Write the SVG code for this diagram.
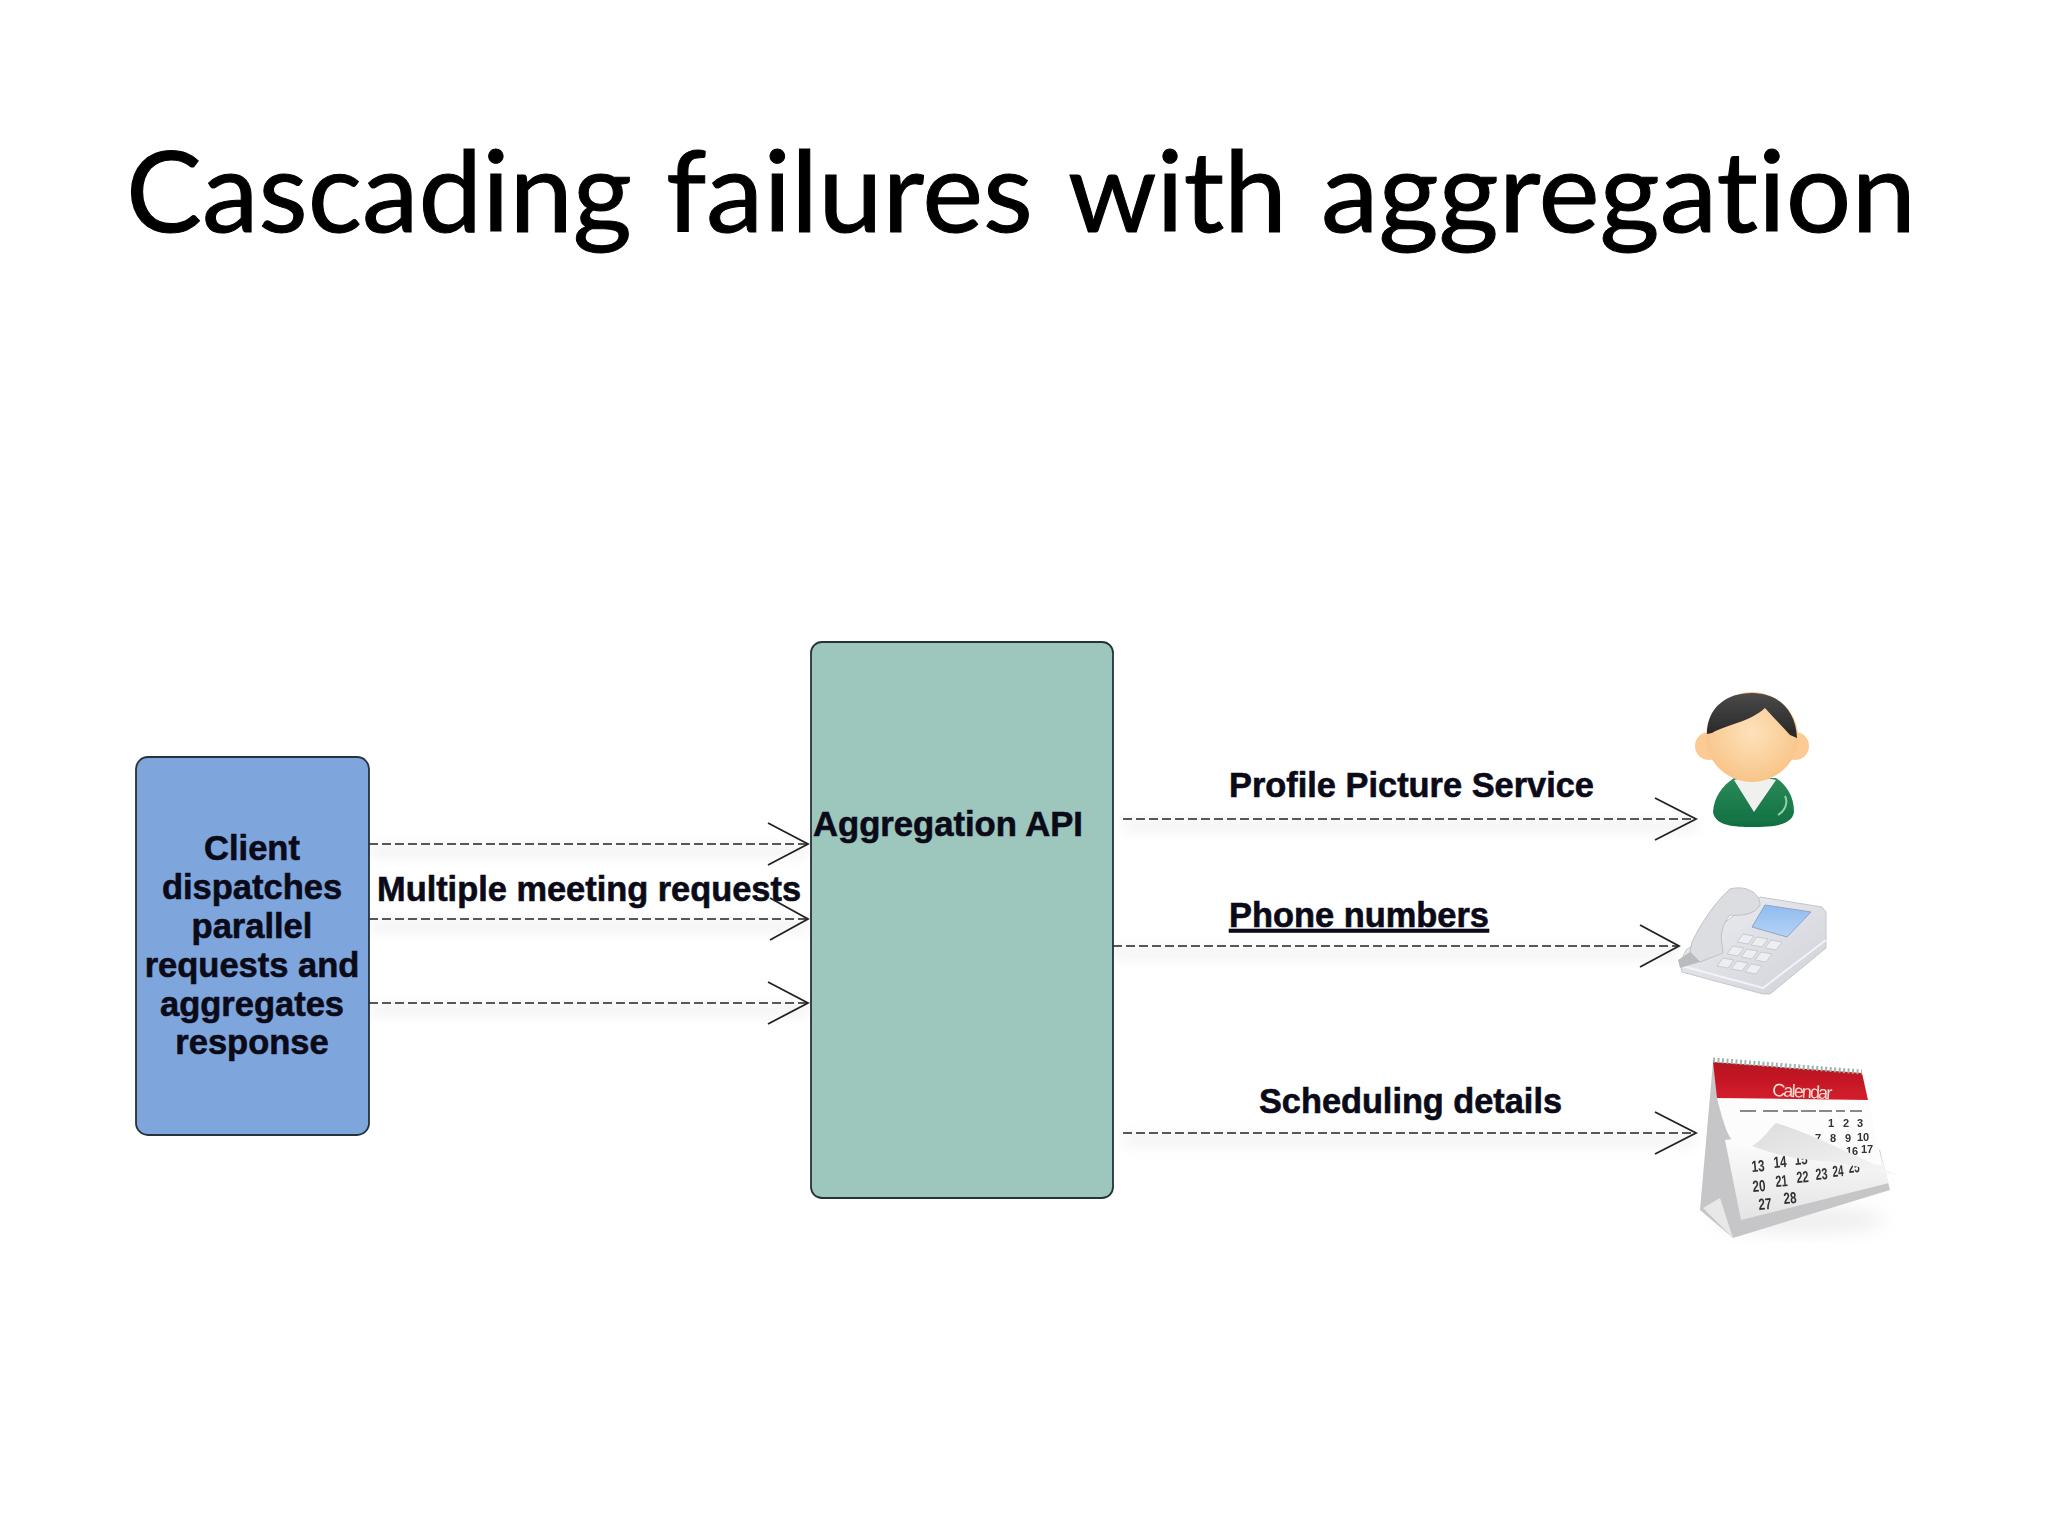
<svg xmlns="http://www.w3.org/2000/svg" width="2048" height="1536" viewBox="0 0 2048 1536">
<style>
.t{font-family:"Liberation Sans",Arial,sans-serif;font-weight:700;font-size:34.500px;fill:#0a0a18;stroke:#0a0a18;stroke-width:.6}
.m{text-anchor:middle}
.c{fill:none;stroke:#222;stroke-width:1.600;stroke-dasharray:9 4}
.h{fill:none;stroke:#222;stroke-width:1.800}
.s{fill:none;stroke:#aaa;stroke-width:9;opacity:.2}
.n{font-family:"Liberation Sans",Arial,sans-serif;font-weight:700;font-size:11px;fill:#333}
.l{font-family:"Liberation Sans",Arial,sans-serif;font-weight:700;font-size:16px;fill:#333}
.box{stroke:#24323a;stroke-width:1.800}
</style>
<defs>
<radialGradient id="skin" cx="50%" cy="45%" r="60%"><stop offset="0" stop-color="#fde2bb"/><stop offset="1" stop-color="#f8c284"/></radialGradient>
<linearGradient id="green" x1="0" y1="0" x2="0" y2="1"><stop offset="0" stop-color="#2c8a58"/><stop offset="1" stop-color="#0f6f42"/></linearGradient>
<linearGradient id="hair" x1="0" y1="0" x2="0" y2="1"><stop offset="0" stop-color="#4a4a4a"/><stop offset="1" stop-color="#262626"/></linearGradient>
<linearGradient id="screen" x1="0" y1="0" x2="0" y2="1"><stop offset="0" stop-color="#8fbcf0"/><stop offset="1" stop-color="#b5d3f5"/></linearGradient>
<linearGradient id="body" x1="0" y1="0" x2="1" y2="1"><stop offset="0" stop-color="#eeeff3"/><stop offset="1" stop-color="#cfd1d9"/></linearGradient>
<linearGradient id="page" x1="0" y1="0" x2="0" y2="1"><stop offset="0" stop-color="#ffffff"/><stop offset="1" stop-color="#e4e4e4"/></linearGradient>
<linearGradient id="flap" x1="0" y1="0" x2="1" y2="1"><stop offset="0" stop-color="#dcdcdc"/><stop offset="1" stop-color="#f6f6f6"/></linearGradient>
<linearGradient id="red" x1="0" y1="0" x2="0" y2="1"><stop offset="0" stop-color="#b5121f"/><stop offset="1" stop-color="#d41e2c"/></linearGradient>
<filter id="soft" x="-10%" y="-300%" width="120%" height="700%"><feGaussianBlur stdDeviation="7"/></filter>
<filter id="blur" x="-5%" y="-5%" width="110%" height="110%"><feGaussianBlur stdDeviation=".6"/></filter>
<filter id="wide" x="-30%" y="-30%" width="160%" height="160%"><feGaussianBlur stdDeviation="8"/></filter>
</defs>
<rect width="2048" height="1536" fill="#ffffff"/>
<text id="title" x="128" y="232" font-family="Lato,'Open Sans',sans-serif" font-size="112" fill="#000" stroke="#000" stroke-width="1" style="font-variant-ligatures:none"><tspan x="126" textLength="506" lengthAdjust="spacingAndGlyphs">Cascading</tspan> <tspan x="666" textLength="367" lengthAdjust="spacingAndGlyphs">failures</tspan> <tspan x="1068" textLength="219" lengthAdjust="spacingAndGlyphs">with</tspan> <tspan x="1321" textLength="595" lengthAdjust="spacingAndGlyphs">aggregation</tspan></text>

<g id="connectors">
<path class="s" filter="url(#soft)" d="M369 851H808M369 926H808M369 1010H808M1123 826H1696M1113 953H1678M1123 1140H1696"/>
<path class="c" d="M369 844H808M369 919H808M369 1003H808M1123 819H1696M1113 946H1678M1123 1133H1696"/>
<path class="h" d="M768 823L808 844L768 865M770 898L808 919L770 940M768 982L808 1003L768 1024M1655 798L1696 819L1655 840M1640 925L1679 946L1640 967M1655 1112L1696 1133L1655 1154"/>
</g>

<g id="client">
<rect class="box" x="136" y="757" width="233" height="378" rx="12" fill="#7ea6dc"/>
<text class="t m" x="252" y="860">Client</text>
<text class="t m" x="252" y="899">dispatches</text>
<text class="t m" x="252" y="938">parallel</text>
<text class="t m" x="252" y="977">requests and</text>
<text class="t m" x="252" y="1016">aggregates</text>
<text class="t m" x="252" y="1054">response</text>
</g>
<g id="aggregation-api">
<rect class="box" x="811" y="642" width="302" height="556" rx="11" fill="#9dc6bd"/>
<text class="t" x="813" y="836" textLength="270" lengthAdjust="spacingAndGlyphs">Aggregation API</text>
</g>
<text id="label-requests" class="t" x="377" y="901" textLength="424" lengthAdjust="spacingAndGlyphs">Multiple meeting requests</text>
<text id="label-profile" class="t" x="1229" y="797" textLength="365" lengthAdjust="spacingAndGlyphs">Profile Picture Service</text>
<text id="label-phone" class="t" x="1229" y="927" textLength="260" lengthAdjust="spacingAndGlyphs" text-decoration="underline">Phone numbers</text>
<text id="label-schedule" class="t" x="1259" y="1113" textLength="303" lengthAdjust="spacingAndGlyphs">Scheduling details</text>

<g id="person" filter="url(#blur)">
<path d="M1713 812C1714 797 1722 786 1734 778L1776 778C1787 785 1794 797 1794 812C1792 826 1770 827 1752 827C1735 827 1715 826 1713 812Z" fill="url(#green)"/>
<path d="M1734 780L1754 812L1776 780L1754 775Z" fill="#f0f0ee"/>
<path d="M1778 815C1786 810 1788 802 1785 796" fill="none" stroke="#8fd0a8" stroke-width="2"/>
<circle cx="1709" cy="746" r="14" fill="#fbcb93"/>
<circle cx="1795" cy="746" r="14" fill="#fbcb93"/>
<ellipse cx="1752" cy="737" rx="46" ry="45" fill="url(#skin)"/>
<path d="M1707 734C1707 707 1727 693 1752 693C1778 693 1796 710 1797 738L1790 735C1782 726 1773 717 1765 708C1750 722 1725 725 1712 733Z" fill="url(#hair)"/>
</g>

<g id="phone" filter="url(#blur)">
<path d="M1680 963L1686 950L1760 897L1822 907L1826 912L1826 948L1770 994L1763 994L1682 972Z" fill="url(#body)" stroke="#c4c6cc"/>
<path d="M1682 966L1763 988L1826 940" fill="none" stroke="#f2f3f6" stroke-width="2"/>
<path d="M1765 905L1811 912L1787 937L1752 927Z" fill="url(#screen)" stroke="#8fa4c4"/>
<g fill="#eceef2" stroke="#c8cad0">
<path d="M1743 934l11 2l-6 8l-11 -2zM1757 937l11 2l-6 8l-11 -2zM1771 940l11 2l-6 8l-11 -2zM1733 946l11 2l-6 8l-11 -2zM1747 949l11 2l-6 8l-11 -2zM1761 952l11 2l-6 8l-11 -2zM1723 958l11 2l-6 8l-11 -2zM1737 961l11 2l-6 8l-11 -2zM1751 964l11 2l-6 8l-11 -2z"/>
</g>
<path d="M1692 942C1700 925 1715 902 1730 889C1745 885 1760 892 1760 905C1755 915 1740 916 1730 915C1722 925 1720 935 1722 945L1723 953L1700 962L1690 952Z" fill="#dcdde1" stroke="#bfc0c6"/>
<path d="M1700 962L1680 968L1678 960L1690 952Z" fill="#b9bbbf"/>
</g>

<g id="calendar" filter="url(#blur)">
<ellipse cx="1800" cy="1220" rx="85" ry="14" fill="#ccc" opacity=".3" filter="url(#wide)"/>
<path d="M1713 1062L1700 1210L1733 1238L1890 1190L1880 1150L1725 1120Z" fill="#c6c6c8"/>
<path d="M1703 1208L1720 1198L1733 1238Z" fill="#e8e8e8"/>
<path d="M1725 1140L1741 1220L1889 1183L1876 1140L1800 1130Z" fill="url(#page)"/>
<path d="M1717 1098L1868 1100L1882 1165L1745 1148C1730 1146 1725 1130 1717 1098Z" fill="#fcfcfc"/>
<path d="M1713 1062L1862 1073L1868 1100L1717 1098Z" fill="url(#red)"/>
<path d="M1713 1060L1862 1072" fill="none" stroke="#9db5ac" stroke-width="5" stroke-dasharray="2 2.500"/>
<text x="1772" y="1096" transform="rotate(3 1772 1096)" font-family="'Liberation Sans',Arial,sans-serif" font-size="18" fill="#f6dcd0" textLength="60">Calendar</text>
<path d="M1740 1111H1756M1763 1111H1778M1783 1111H1798M1801 1111H1816M1819 1111H1832M1836 1111H1845M1850 1111H1862" stroke="#888" stroke-width="2"/>
<g class="n">
<text x="1828" y="1127">1</text><text x="1843" y="1127">2</text><text x="1857" y="1127">3</text>
<text x="1815" y="1142">7</text><text x="1830" y="1142">8</text><text x="1845" y="1142">9</text><text x="1857" y="1141">10</text>
<text x="1846" y="1155">16</text><text x="1861" y="1153">17</text>
</g>
<g class="l">
<text x="1752" y="1172" textLength="13" lengthAdjust="spacingAndGlyphs" transform="rotate(-5 1752 1172)">13</text><text x="1774" y="1168" textLength="13" lengthAdjust="spacingAndGlyphs" transform="rotate(-5 1774 1168)">14</text><text x="1795" y="1165" textLength="13" lengthAdjust="spacingAndGlyphs" transform="rotate(-5 1795 1165)">15</text><text x="1833" y="1177" textLength="11" lengthAdjust="spacingAndGlyphs" transform="rotate(-5 1833 1177)">24</text><text x="1849" y="1173" textLength="11" lengthAdjust="spacingAndGlyphs" transform="rotate(-5 1849 1173)">25</text>
<text x="1753" y="1192" textLength="13" lengthAdjust="spacingAndGlyphs" transform="rotate(-5 1753 1192)">20</text><text x="1776" y="1187" textLength="12" lengthAdjust="spacingAndGlyphs" transform="rotate(-5 1776 1187)">21</text><text x="1797" y="1183" textLength="12" lengthAdjust="spacingAndGlyphs" transform="rotate(-5 1797 1183)">22</text><text x="1816" y="1180" textLength="12" lengthAdjust="spacingAndGlyphs" transform="rotate(-5 1816 1180)">23</text>
<text x="1759" y="1210" textLength="13" lengthAdjust="spacingAndGlyphs" transform="rotate(-5 1759 1210)">27</text><text x="1784" y="1204" textLength="13" lengthAdjust="spacingAndGlyphs" transform="rotate(-5 1784 1204)">28</text>
</g>
<path d="M1752 1146C1763 1140 1770 1128 1776 1123C1815 1135 1860 1158 1897 1175C1870 1170 1850 1165 1835 1162C1800 1160 1775 1155 1752 1146Z" fill="url(#flap)"/>
</g>
</svg>
